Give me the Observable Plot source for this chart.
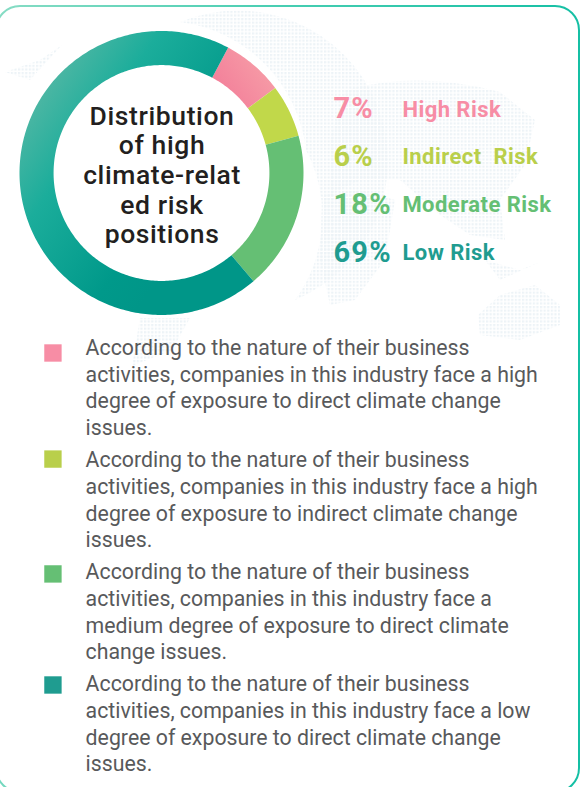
<!DOCTYPE html>
<html>
<head>
<meta charset="utf-8">
<script src="https://cdn.jsdelivr.net/npm/d3@7"></script>
<script src="https://cdn.jsdelivr.net/npm/@observablehq/plot@0.6"></script>
<style>
html,body{margin:0;padding:0;background:#fff;overflow:hidden}
svg{display:block}
.m-title text{letter-spacing:.6px}
.m-pct text{letter-spacing:1.2px}
.m-risk text{letter-spacing:.45px}
</style>
</head>
<body>
<div id="chart"></div>
<script>
const categories = ["High Risk", "Indirect  Risk", "Moderate Risk", "Low Risk"];
const shares = [7, 6, 18, 69];
const flatColors = ["#f78da5", "#b9cf4b", "#65bf74", "#1f9c90"];
const sliceFills = ["url(#gHigh)", "#c1d84a", "#65bf74", "url(#gLow)"];
const centerTitle = "Distribution\nof high\nclimate-relat\ned risk\npositions";
const descriptions = [
  ["According to the nature of their business", "activities, companies in this industry face a high", "degree of exposure to direct climate change", "issues."],
  ["According to the nature of their business", "activities, companies in this industry face a high", "degree of exposure to indirect climate change", "issues."],
  ["According to the nature of their business", "activities, companies in this industry face a", "medium degree of exposure to direct climate", "change issues."],
  ["According to the nature of their business", "activities, companies in this industry face a low", "degree of exposure to direct climate change", "issues."]
];

// Ring geometry in unit coordinates, built from the shares.
const startDeg = 28, innerRatio = 0.76;
const ring = [];
let cum = 0;
categories.forEach((cat, i) => {
  const a0 = startDeg + cum * 3.6, a1 = startDeg + (cum + shares[i]) * 3.6;
  const n = Math.ceil(a1 - a0);
  for (let k = 0; k <= n; k++) {
    const t = (a0 + (a1 - a0) * k / n) * Math.PI / 180;
    ring.push({cat, ox: Math.sin(t), oy: -Math.cos(t), ix: innerRatio * Math.sin(t), iy: -innerRatio * Math.cos(t)});
  }
  cum += shares[i];
});

const rows = categories.map((cat, i) => ({cat, pct: shares[i] + "%", i, color: flatColors[i], label: cat}));
const textLines = descriptions.flatMap((ls, i) => ls.map((text, j) => ({text, i, j})));
const swatchOffsets = [1.264, 2.011, 2.82, 3.602];

function backdrop() {
  const g = d3.create("svg:g");
  const defs = g.append("defs");
  const lin = (id, p, stops) => {
    const l = defs.append("linearGradient").attr("id", id).attr("gradientUnits", "userSpaceOnUse")
      .attr("x1", p[0]).attr("y1", p[1]).attr("x2", p[2]).attr("y2", p[3]);
    stops.forEach(([o, c]) => l.append("stop").attr("offset", o).attr("stop-color", c));
  };
  lin("gLow", [25, 120, 190, 235], [[0, "#4ab6a3"], [0.3, "#1bad9b"], [0.8, "#00998a"], [1, "#009688"]]);
  lin("gHigh", [220, 85, 270, 50], [[0, "#f3829b"], [1, "#f7a2a9"]]);
  lin("gFrame", [0, 0, 585, 60], [[0, "#86dcc4"], [0.5, "#45cdb1"], [1, "#14bfa4"]]);
  const pat = defs.append("pattern").attr("id", "dots").attr("patternUnits", "userSpaceOnUse").attr("width", 3.6).attr("height", 3.6);
  pat.append("rect").attr("width", 2.2).attr("height", 2.2).attr("fill", "#edf3f7");
  // Faint dotted world map behind the chart
  const blobs = [
    "M345 90 Q420 70 500 92 L535 120 L525 165 L500 200 L505 240 L470 235 L440 215 L400 180 L360 180 L330 195 L330 140 Z",
    "M322 195 L360 190 L395 200 L385 260 L355 300 L330 305 L320 260 Z",
    "M478 315 L500 295 L535 285 L560 305 L560 325 L520 340 L480 335 Z",
    "M140 318 L190 318 L172 350 L132 366 Z",
    "M5 72 L40 60 L62 45 L30 80 Z",
    "M485 260 L520 270 L540 262 L500 280 Z"
  ];
  blobs.forEach(d => g.append("path").attr("d", d).attr("fill", "url(#dots)"));
  g.append("path").attr("d", "M180 22 A148 148 0 0 1 295 300 A142 142 0 0 0 306 150 A146 146 0 0 0 180 22 Z").attr("fill", "url(#dots)");
  g.append("rect").attr("x", -4).attr("y", 6).attr("width", 583).attr("height", 786).attr("rx", 24)
    .attr("fill", "none").attr("stroke", "url(#gFrame)").attr("stroke-width", 2);
  return g.node();
}

const plot = Plot.plot({
  width: 585,
  height: 787,
  margin: 0,
  style: {background: "transparent", overflow: "hidden"},
  x: {axis: null, domain: [-1, 1], range: [19.5, 303.5]},
  y: {axis: null, domain: [-1, 1], range: [31, 315]},
  color: {domain: categories, range: sliceFills},
  marks: [
    backdrop,
    Plot.area(ring, {x1: "ox", y1: "oy", x2: "ix", y2: "iy", z: "cat", fill: "cat", curve: "linear"}),
    Plot.text([centerTitle], {x: 0, y: 0.008, text: d => d, textAnchor: "middle", lineAnchor: "middle", lineHeight: 1.12,
      fontFamily: "Roboto", fontWeight: 500, fontSize: 26.5, fill: "#231f20", className: "m-title"}),
    Plot.text(rows, {x: 1.208, y: d => -0.455 + d.i * 0.338, text: "pct", textAnchor: "start", lineAnchor: "middle",
      fontFamily: "Roboto", fontWeight: 700, fontSize: 29, fill: {value: "color", scale: null}, className: "m-pct"}),
    Plot.text(rows, {x: 1.693, y: d => -0.45 + d.i * 0.336, text: "label", textAnchor: "start", lineAnchor: "middle",
      fontFamily: "Roboto", fontWeight: 700, fontSize: 22, fill: {value: "color", scale: null}, className: "m-risk"}),
    Plot.dot(rows, {x: -0.768, y: d => swatchOffsets[d.i], symbol: "square", r: 9.8, fill: {value: "color", scale: null}}),
    Plot.text(textLines, {x: -0.538, y: d => 1.225 + d.i * 0.789 + d.j * 0.1895, text: "text", textAnchor: "start", lineAnchor: "middle",
      fontFamily: "Roboto", fontSize: 22.5, fill: "#58595b", className: "m-body"})
  ]
});
document.getElementById("chart").append(plot);

// Condense the body text to the narrow width of the original typeface.
const bodyTexts = plot.querySelectorAll(".m-body text");
const squeeze = 384 / bodyTexts[0].getComputedTextLength();
bodyTexts.forEach(t => {
  t.setAttribute("textLength", t.getComputedTextLength() * squeeze);
  t.setAttribute("lengthAdjust", "spacingAndGlyphs");
});
</script>
</body>
</html>
